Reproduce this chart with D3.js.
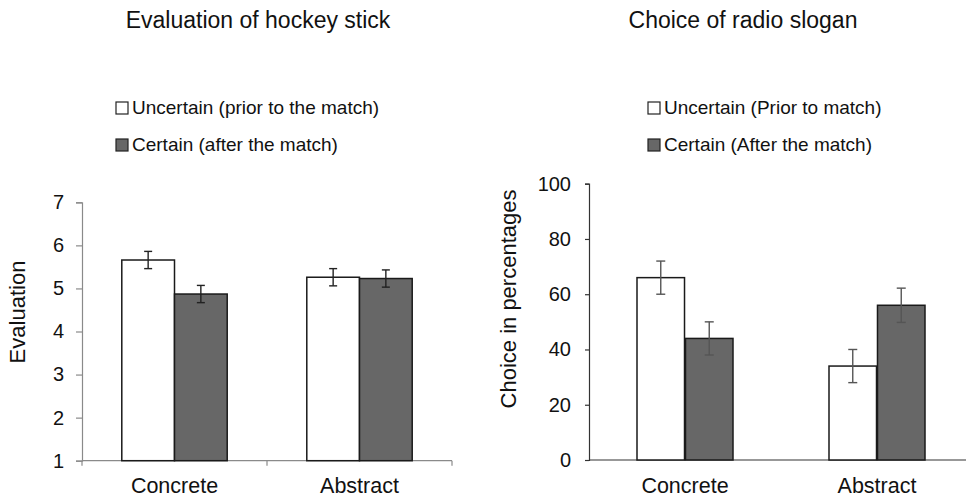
<!DOCTYPE html>
<html>
<head>
<meta charset="utf-8">
<script src="https://cdn.jsdelivr.net/npm/d3@7"></script>
<style>
  html, body { margin: 0; padding: 0; background: #fff; }
  svg { display: block; font-family: "Liberation Sans", Arial, sans-serif; }
</style>
</head>
<body>
<svg id="chart" width="966" height="498"></svg>
<script>
// Panel A: evaluation of the hockey stick (1–7 scale)
const categories = ["Concrete", "Abstract"];
const hockeyUncertain = [5.66, 5.26];
const hockeyCertain = [4.87, 5.23];
const hockeyErr = [[0.20, 0.20], [0.20, 0.20]]; // [uncertain, certain] per category
const hockeyTicks = [1, 2, 3, 4, 5, 6, 7];

// Panel B: choice of radio slogan (percent)
const sloganUncertain = [66, 34];
const sloganCertain = [44, 56];
const sloganErr = [[6, 6], [6, 6.2]];
const sloganTicks = [0, 20, 40, 60, 80, 100];

const svg = d3.select("#chart");
const GRAY = "#676767";

function panel(opts) {
  const g = svg.append("g");
  const x = d3.scaleBand().domain(categories).range(opts.xRange).paddingInner(0).paddingOuter(0);
  const y = d3.scaleLinear().domain(opts.yDomain).range(opts.yRange);
  const inner = d3.scaleBand().domain(["u", "c"]).range([0, x.bandwidth()])
    .paddingOuter(opts.outerPad).paddingInner(opts.innerPad);

  // title
  g.append("text").attr("x", opts.titleX).attr("y", 28)
    .attr("text-anchor", "middle").attr("font-size", 23).attr("fill", "#111")
    .text(opts.title);

  // legend
  opts.legend.forEach((txt, i) => {
    const ly = 114 + i * 37;
    g.append("rect").attr("x", opts.legendX).attr("y", ly - 12).attr("width", 12).attr("height", 12)
      .attr("fill", i === 0 ? "#fff" : GRAY).attr("stroke", "#222").attr("stroke-width", 1.2);
    g.append("text").attr("x", opts.legendX + 16).attr("y", ly)
      .attr("font-size", 19).attr("fill", "#111").text(txt);
  });

  // y axis
  const ya = g.append("g").attr("transform", `translate(${opts.xRange[0]},0)`)
    .call(d3.axisLeft(y).tickValues(opts.ticks).tickFormat(d3.format("d"))
      .tickSize(opts.tickLen).tickSizeOuter(opts.tickLen).tickPadding(opts.tickPad));
  ya.selectAll("path, line").attr("stroke", opts.axisColor).attr("stroke-width", 1.2);
  ya.selectAll("text").attr("font-size", 20).attr("fill", "#111")
    .attr("font-family", "Liberation Sans, Arial, sans-serif");

  // x axis baseline
  const base = y(opts.yDomain[0]);
  g.append("line").attr("x1", opts.xRange[0]).attr("x2", opts.xRange[1])
    .attr("y1", base).attr("y2", base).attr("stroke", opts.axisColor).attr("stroke-width", 1.2);
  if (opts.xTicks) {
    [opts.xRange[0], x("Abstract"), opts.xRange[1]].forEach(px => {
      g.append("line").attr("x1", px).attr("x2", px).attr("y1", base).attr("y2", base + 5)
        .attr("stroke", opts.axisColor).attr("stroke-width", 1.2);
    });
  }

  // category labels
  categories.forEach(c => {
    g.append("text").attr("x", x(c) + x.bandwidth() / 2).attr("y", 493)
      .attr("text-anchor", "middle").attr("font-size", 21.5).attr("fill", "#111").text(c);
  });

  // bars and error bars
  categories.forEach((c, i) => {
    const series = [
      { k: "u", v: opts.unc[i], e: opts.err[i][0], fill: "#fff" },
      { k: "c", v: opts.cer[i], e: opts.err[i][1], fill: GRAY }
    ];
    series.forEach(s => {
      const bx = x(c) + inner(s.k);
      g.append("rect").attr("x", bx).attr("y", y(s.v))
        .attr("width", inner.bandwidth()).attr("height", base - y(s.v))
        .attr("fill", s.fill).attr("stroke", "#1a1a1a").attr("stroke-width", 1.5);
      const cx = bx + inner.bandwidth() / 2;
      const eg = g.append("g").attr("stroke", opts.errColor).attr("stroke-width", 1.4);
      eg.append("line").attr("x1", cx).attr("x2", cx).attr("y1", y(s.v + s.e)).attr("y2", y(s.v - s.e));
      [s.v + s.e, s.v - s.e].forEach(t => {
        eg.append("line").attr("x1", cx - opts.cap).attr("x2", cx + opts.cap)
          .attr("y1", y(t)).attr("y2", y(t));
      });
    });
  });

  // y axis title
  g.append("text")
    .attr("transform", `translate(${opts.yTitleX},${opts.yTitleY}) rotate(-90)`)
    .attr("text-anchor", "middle").attr("font-size", 22).attr("fill", "#111")
    .text(opts.yTitle);
}

panel({
  title: "Evaluation of hockey stick", titleX: 258,
  legend: ["Uncertain (prior to the match)", "Certain (after the match)"], legendX: 116,
  xRange: [82, 452], yDomain: [1, 7], yRange: [460.7, 202.3], ticks: hockeyTicks,
  outerPad: 0.755, innerPad: 0, tickLen: 6, tickPad: 12, axisColor: "#8a8a8a", xTicks: true,
  unc: hockeyUncertain, cer: hockeyCertain, err: hockeyErr, errColor: "#222", cap: 4,
  yTitle: "Evaluation", yTitleX: 25, yTitleY: 312
});

panel({
  title: "Choice of radio slogan", titleX: 743,
  legend: ["Uncertain (Prior to match)", "Certain (After the match)"], legendX: 648,
  xRange: [589, 973], yDomain: [0, 100], yRange: [460, 183.7], ticks: sloganTicks,
  outerPad: 0.99, innerPad: 0.02, tickLen: 4, tickPad: 14, axisColor: "#333", xTicks: false,
  unc: sloganUncertain, cer: sloganCertain, err: sloganErr, errColor: "#555", cap: 4.5,
  yTitle: "Choice in percentages", yTitleX: 516, yTitleY: 299
});
</script>
</body>
</html>
